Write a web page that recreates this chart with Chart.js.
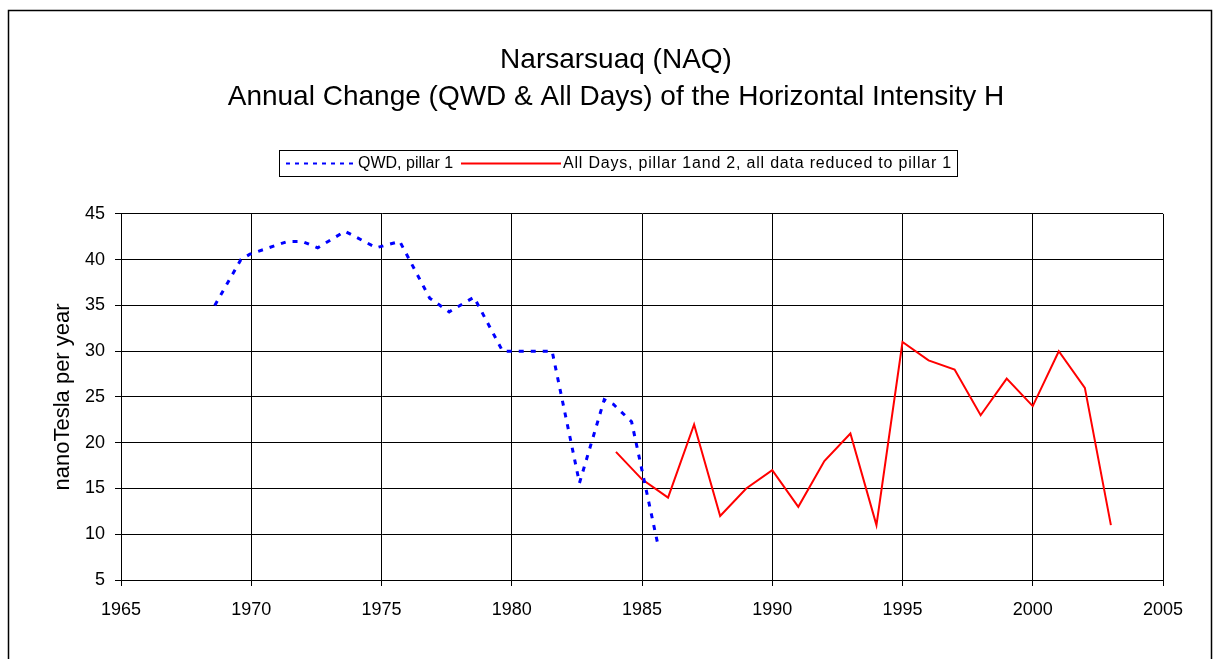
<!DOCTYPE html>
<html>
<head>
<meta charset="utf-8">
<title>Narsarsuaq (NAQ)</title>
<script src="https://cdn.jsdelivr.net/npm/chart.js@4.4.1/dist/chart.umd.min.js"></script>
<style>
  html, body { margin: 0; padding: 0; background: #fff; }
  #wrap { width: 1220px; height: 659px; }
</style>
</head>
<body>
<div id="wrap"><canvas id="chart" width="1220" height="659"></canvas></div>
<script>
// QWD series: fractional years where the line bends
const QWD_YEARS = [1968.6, 1969.6, 1969.95, 1971.4, 1971.95, 1972.55, 1973.6, 1974.8, 1975.7,
  1976.85, 1977.6, 1978.55, 1979.65, 1980.6, 1981.55, 1982.6, 1983.55, 1983.9, 1984.6, 1985.6];
const QWD_VALUES = [35, 40, 40.6, 42, 42, 41.3, 43.1, 41.3, 42,
  35.8, 34.3, 35.9, 30, 30, 30, 15.6, 24.7, 24.2, 22.3, 9];

// All days series, one value per year
const ALL_YEARS = [1984, 1985, 1986, 1987, 1988, 1989, 1990, 1991, 1992, 1993,
  1994, 1995, 1996, 1997, 1998, 1999, 2000, 2001, 2002, 2003];
const ALL_VALUES = [19, 16, 14, 22, 12, 15, 17, 13, 18, 21,
  11, 31, 29, 28, 23, 27, 24, 30, 26, 11];

const TITLE_LINES = ["Narsarsuaq (NAQ)", "Annual Change (QWD & All Days) of the Horizontal Intensity H"];
const SERIES_LABELS = ["QWD, pillar 1", "All Days, pillar 1and 2, all data reduced to pillar 1"];
const Y_TITLE = "nanoTesla per year";

const FONT = "'Liberation Sans', Arial, sans-serif";

function toPoints(xs, ys) {
  return xs.map((x, i) => ({ x, y: ys[i] }));
}

// white page with the thin outer frame
const frame = {
  id: "frame",
  beforeDraw(chart) {
    const { ctx, width, height } = chart;
    ctx.save();
    ctx.fillStyle = "#fff";
    ctx.fillRect(0, 0, width, height);
    ctx.strokeStyle = "#000";
    ctx.lineWidth = 1.5;
    ctx.strokeRect(8.5, 10.5, 1203, height);
    ctx.restore();
  },
};

// title is centred on the frame, not on the padded layout box
const centreTitle = {
  id: "centreTitle",
  afterLayout(chart) {
    if (!chart.titleBlock) return;
    chart.titleBlock.left = 22;
    chart.titleBlock.right = 1210;
  },
};

// boxed legend like the spreadsheet one
const boxedLegend = {
  id: "boxedLegend",
  afterDraw(chart) {
    const ctx = chart.ctx;
    const sets = chart.data.datasets;
    ctx.save();
    ctx.strokeStyle = "#000";
    ctx.lineWidth = 1;
    ctx.strokeRect(279.5, 150.5, 678, 26);

    ctx.font = `16px ${FONT}`;
    ctx.textBaseline = "middle";
    ctx.fillStyle = "#000";
    const cy = 163.5;

    ctx.beginPath();
    ctx.setLineDash([4, 5]);
    ctx.strokeStyle = sets[0].borderColor;
    ctx.lineWidth = 2;
    ctx.moveTo(286, cy);
    ctx.lineTo(355, cy);
    ctx.stroke();
    ctx.setLineDash([]);
    ctx.fillText(sets[0].label, 358, cy);

    ctx.beginPath();
    ctx.strokeStyle = sets[1].borderColor;
    ctx.lineWidth = 2;
    ctx.moveTo(461, cy);
    ctx.lineTo(561, cy);
    ctx.stroke();
    // the spreadsheet spreads this label wider than the font does
    const label = sets[1].label;
    const natural = ctx.measureText(label).width;
    ctx.letterSpacing = `${((952 - 563) - natural) / label.length}px`;
    ctx.fillText(label, 563, cy);
    ctx.restore();
  },
};

new Chart(document.getElementById("chart"), {
  type: "line",
  data: {
    datasets: [
      {
        label: SERIES_LABELS[0],
        data: toPoints(QWD_YEARS, QWD_VALUES),
        borderColor: "#0000ff",
        borderWidth: 3,
        borderDash: [5, 7],
        pointRadius: 0,
        tension: 0,
      },
      {
        label: SERIES_LABELS[1],
        data: toPoints(ALL_YEARS, ALL_VALUES),
        borderColor: "#ff0000",
        borderWidth: 2,
        pointRadius: 0,
        tension: 0,
      },
    ],
  },
  options: {
    responsive: false,
    devicePixelRatio: 1,
    animation: false,
    layout: { padding: { top: 10, left: 10, right: 57, bottom: 0 } },
    plugins: {
      legend: { display: false },
      tooltip: { enabled: false },
      title: {
        display: true,
        text: TITLE_LINES,
        color: "#000",
        font: { family: FONT, size: 28, weight: "normal", lineHeight: 1.32 },
        padding: { top: 31.5, bottom: 98.5 },
      },
    },
    scales: {
      x: {
        type: "linear",
        min: 1965,
        max: 2005,
        afterFit: (scale) => { scale.height = 79; },
        ticks: {
          stepSize: 5,
          color: "#000",
          padding: 13,
          font: { family: FONT, size: 18 },
          callback: (v) => String(v),
        },
        grid: { color: "#000", lineWidth: 1, tickLength: 6 },
        border: { color: "#000", width: 1 },
      },
      y: {
        min: 5,
        max: 45,
        afterFit: (scale) => { scale.width = 111; },
        ticks: {
          stepSize: 5,
          color: "#000",
          padding: 10,
          font: { family: FONT, size: 18 },
        },
        grid: { color: "#000", lineWidth: 1, tickLength: 6 },
        border: { color: "#000", width: 1 },
        title: {
          display: true,
          text: Y_TITLE,
          color: "#000",
          font: { family: FONT, size: 22 },
          padding: { top: 40, bottom: 0 },
        },
      },
    },
  },
  plugins: [frame, centreTitle, boxedLegend],
});
</script>
</body>
</html>
